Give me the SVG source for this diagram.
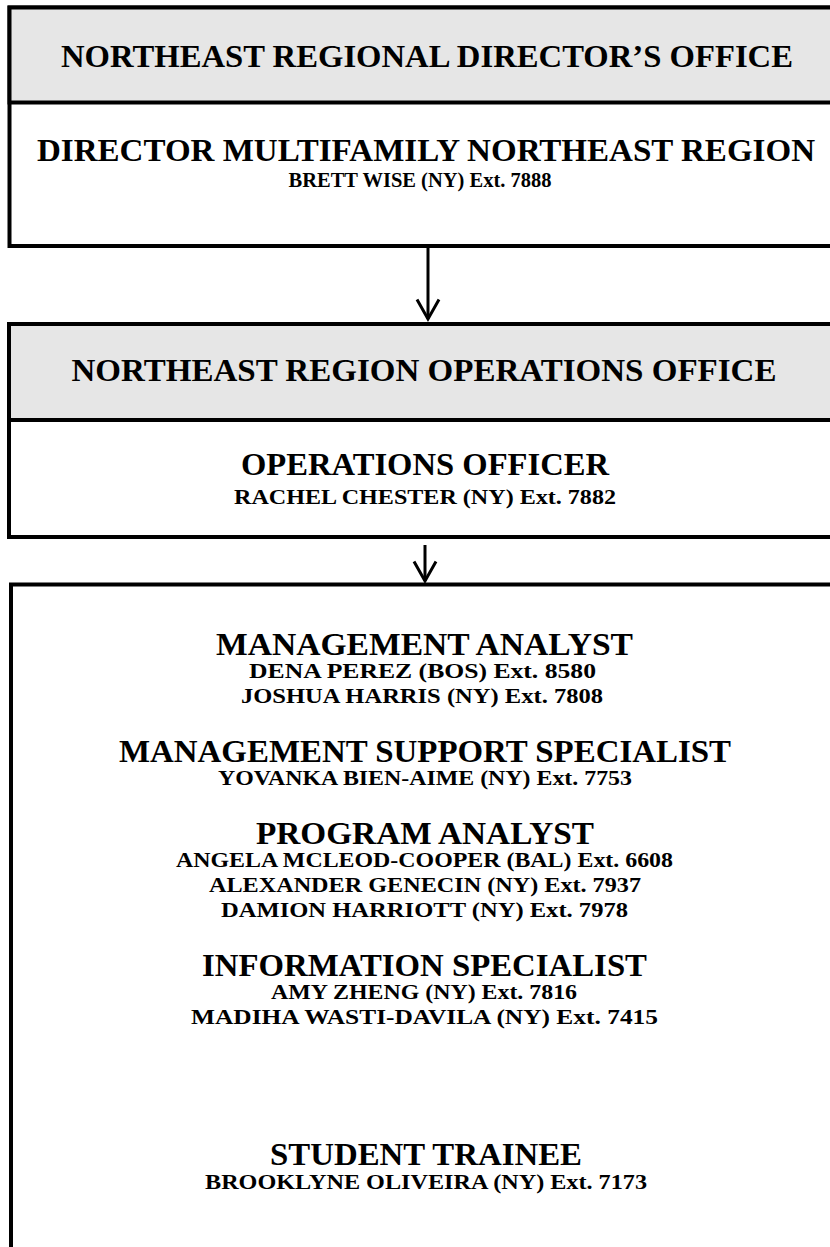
<svg xmlns="http://www.w3.org/2000/svg" width="830" height="1247" viewBox="0 0 830 1247">
<style>
.box{fill:#ffffff;stroke:#000000;stroke-width:4}
.hdr{fill:#e6e6e6;stroke:#000000;stroke-width:4}
.t{font-family:"Liberation Serif","Times New Roman",serif;font-weight:bold;fill:#000000;text-anchor:middle}
.big{font-size:31px}
.sm{font-size:20px}
.conn{stroke:#000000;stroke-width:3;fill:none}
</style>
<defs>
<marker id="arr" markerUnits="userSpaceOnUse" markerWidth="24" markerHeight="26" refX="20" refY="11.5" orient="auto" overflow="visible">
<path d="M 0.5 0.5 L 20 11.5 L 0.5 22.5" fill="none" stroke="#000000" stroke-width="3" stroke-linejoin="miter"/>
</marker>
</defs>
<rect width="830" height="1247" fill="#ffffff"/>
<g id="node-director">
<rect class="box" x="9.5" y="7.5" width="840" height="238.5"/>
<rect class="hdr" x="9.5" y="7.5" width="840" height="95"/>
<text class="t big" x="427" y="67" textLength="732" lengthAdjust="spacingAndGlyphs">NORTHEAST REGIONAL DIRECTOR’S OFFICE</text>
<text class="t big" x="426" y="161" textLength="778" lengthAdjust="spacingAndGlyphs">DIRECTOR MULTIFAMILY NORTHEAST REGION</text>
<text class="t sm" x="420" y="187" textLength="263" lengthAdjust="spacingAndGlyphs">BRETT WISE (NY) Ext. 7888</text>
</g>
<g id="node-operations">
<rect class="box" x="9" y="324" width="840" height="213"/>
<rect class="hdr" x="9" y="324" width="840" height="96"/>
<text class="t big" x="424" y="381" textLength="705" lengthAdjust="spacingAndGlyphs">NORTHEAST REGION OPERATIONS OFFICE</text>
<text class="t big" x="425" y="475" textLength="368" lengthAdjust="spacingAndGlyphs">OPERATIONS OFFICER</text>
<text class="t sm" x="425" y="504" textLength="382" lengthAdjust="spacingAndGlyphs">RACHEL CHESTER (NY) Ext. 7882</text>
</g>
<g id="node-staff">
<rect class="box" x="11" y="584.5" width="840" height="700"/>
<text class="t big" x="424.5" y="655" textLength="417" lengthAdjust="spacingAndGlyphs">MANAGEMENT ANALYST</text>
<text class="t sm" x="422.5" y="678" textLength="347" lengthAdjust="spacingAndGlyphs">DENA PEREZ (BOS) Ext. 8580</text>
<text class="t sm" x="422" y="703" textLength="362" lengthAdjust="spacingAndGlyphs">JOSHUA HARRIS (NY) Ext. 7808</text>
<text class="t big" x="425" y="762" textLength="612" lengthAdjust="spacingAndGlyphs">MANAGEMENT SUPPORT SPECIALIST</text>
<text class="t sm" x="425" y="785" textLength="414" lengthAdjust="spacingAndGlyphs">YOVANKA BIEN-AIME (NY) Ext. 7753</text>
<text class="t big" x="425" y="844" textLength="338" lengthAdjust="spacingAndGlyphs">PROGRAM ANALYST</text>
<text class="t sm" x="424.5" y="867" textLength="497" lengthAdjust="spacingAndGlyphs">ANGELA MCLEOD-COOPER (BAL) Ext. 6608</text>
<text class="t sm" x="425" y="892" textLength="432" lengthAdjust="spacingAndGlyphs">ALEXANDER GENECIN (NY) Ext. 7937</text>
<text class="t sm" x="424.5" y="917" textLength="407" lengthAdjust="spacingAndGlyphs">DAMION HARRIOTT (NY) Ext. 7978</text>
<text class="t big" x="424.5" y="976" textLength="445" lengthAdjust="spacingAndGlyphs">INFORMATION SPECIALIST</text>
<text class="t sm" x="424" y="999" textLength="306" lengthAdjust="spacingAndGlyphs">AMY ZHENG (NY) Ext. 7816</text>
<text class="t sm" x="424.5" y="1024" textLength="467" lengthAdjust="spacingAndGlyphs">MADIHA WASTI-DAVILA (NY) Ext. 7415</text>
<text class="t big" x="426" y="1165" textLength="312" lengthAdjust="spacingAndGlyphs">STUDENT TRAINEE</text>
<text class="t sm" x="426" y="1189" textLength="442" lengthAdjust="spacingAndGlyphs">BROOKLYNE OLIVEIRA (NY) Ext. 7173</text>
</g>
<g id="connectors">
<path class="conn" d="M 428 247 L 428 319" marker-end="url(#arr)"/>
<path class="conn" d="M 425 545 L 425 581" marker-end="url(#arr)"/>
</g>
</svg>
